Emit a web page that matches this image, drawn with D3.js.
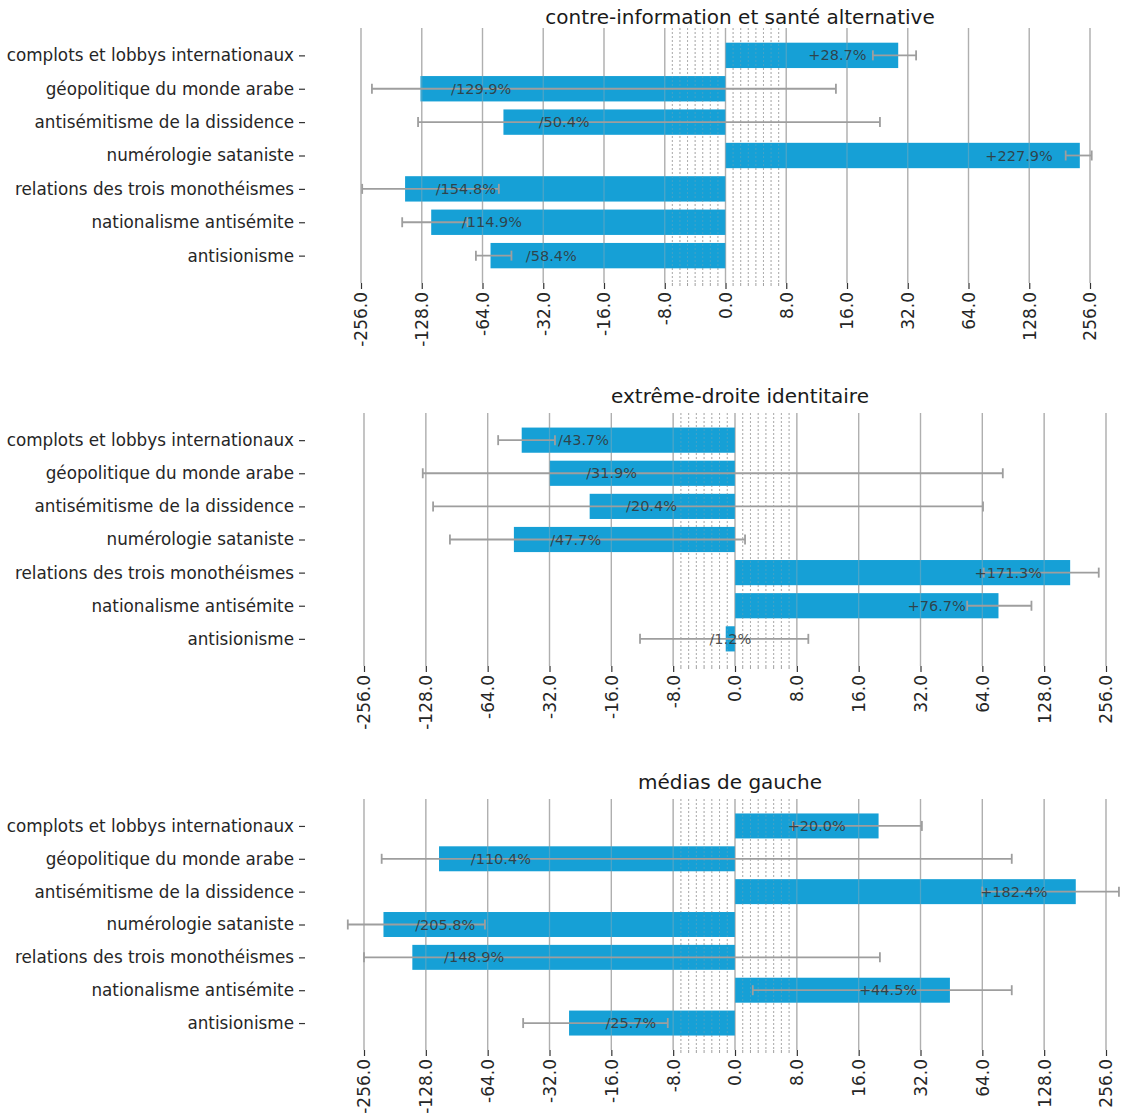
<!DOCTYPE html>
<html>
<head>
<meta charset="utf-8">
<script src="https://cdn.jsdelivr.net/npm/d3@7.9.0/dist/d3.min.js"></script>
<style>
  body { margin: 0; background: #fff; }
  text { font-family: "DejaVu Sans", sans-serif; }
</style>
</head>
<body>
<div id="chart"></div>
<script>
const width = 1127;
const height = 1119;

// data
const categories = [
  "complots et lobbys internationaux",
  "géopolitique du monde arabe",
  "antisémitisme de la dissidence",
  "numérologie sataniste",
  "relations des trois monothéismes",
  "nationalisme antisémite",
  "antisionisme"
];
const panelTitles = [
  "contre-information et santé alternative",
  "extrême-droite identitaire",
  "médias de gauche"
];
const values1 = [28.7, -129.9, -50.4, 227.9, -154.8, -114.9, -58.4];
const low1 = [21.5, -226, -133.5, 194, -252.6, -160, -69];
const high1 = [35.2, 14.1, 23.3, 261, -53.1, -76, -46];

const values2 = [-43.7, -31.9, -20.4, -47.7, 171.3, 76.7, -1.2];
const low2 = [-56.9, -132.5, -118, -97.7, 65, 54, -11.6];
const high2 = [-30.1, 80.5, 64.5, 1.3, 236, 111, 9.1];

const values3 = [20.0, -110.4, 182.4, -205.8, -148.9, 44.5, -25.7];
const low3 = [7.5, -210, 64, -307, -256, 2.3, -43];
const high3 = [32.5, 89, 296, -66, 20.3, 89, -8.5];

const majorTicks = [-256, -128, -64, -32, -16, -8, 0, 8, 16, 32, 64, 128, 256];
const minorTicks = [-7, -6, -5, -4, -3, -2, -1, 1, 2, 3, 4, 5, 6, 7];

const panels = [
  { title: panelTitles[0], values: values1, low: low1, high: high1, top: 28, bottom: 283, x0: 361, x1: 1090, titleX: 740, titleY: 24 },
  { title: panelTitles[1], values: values2, low: low2, high: high2, top: 413, bottom: 666, x0: 364, x1: 1106, titleX: 740, titleY: 403 },
  { title: panelTitles[2], values: values3, low: low3, high: high3, top: 799, bottom: 1050, x0: 364, x1: 1106, titleX: 730, titleY: 789 }
];

// symmetric log, base 2, linear below 8
const linthresh = 8;
const symlog2 = v => {
  const a = Math.abs(v);
  const t = a <= linthresh ? a / linthresh : 1 + Math.log2(a / linthresh);
  return Math.sign(v) * t;
};

const barColor = "#16a0d6";
const errColor = "#9e9e9e";
const gridColor = "#b0b0b0";

const svg = d3.select("#chart")
  .append("svg")
  .attr("width", width)
  .attr("height", height)
  .attr("viewBox", `0 0 ${width} ${height}`);

panels.forEach(p => {
  const xLin = d3.scaleLinear().domain([-6, 6]).range([p.x0, p.x1]);
  const x = v => xLin(symlog2(v));
  const y = d3.scalePoint().domain(categories).range([p.top, p.bottom]).padding(0.82);
  const bh = y.step() * 0.76;

  const g = svg.append("g");

  const drawGrid = (layer, op) => {
    layer.selectAll(null).data(majorTicks).join("line")
      .attr("x1", d => x(d)).attr("x2", d => x(d))
      .attr("y1", p.top).attr("y2", p.bottom)
      .attr("stroke", gridColor).attr("stroke-width", 1.3)
      .attr("stroke-opacity", op);
    layer.selectAll(null).data(minorTicks).join("line")
      .attr("x1", d => x(d)).attr("x2", d => x(d))
      .attr("y1", p.top).attr("y2", p.bottom)
      .attr("stroke", "#a8a8a8").attr("stroke-width", 0.9)
      .attr("stroke-dasharray", "2,2")
      .attr("stroke-opacity", op);
  };
  drawGrid(g.append("g"), 1);

  // bars
  g.append("g").selectAll("rect").data(p.values).join("rect")
    .attr("x", d => Math.min(x(0), x(d)))
    .attr("width", d => Math.abs(x(d) - x(0)))
    .attr("y", (d, i) => y(categories[i]) - bh / 2)
    .attr("height", bh)
    .attr("fill", barColor);

  // faint grid over bars
  drawGrid(g.append("g"), 0.35);

  // error bars
  const eb = g.append("g").attr("stroke", errColor).attr("stroke-width", 1.8);
  categories.forEach((c, i) => {
    const cy = y(c);
    const xa = x(p.low[i]), xb = x(p.high[i]);
    eb.append("line").attr("x1", xa).attr("x2", xb).attr("y1", cy).attr("y2", cy);
    eb.append("line").attr("x1", xa).attr("x2", xa).attr("y1", cy - 5).attr("y2", cy + 5);
    eb.append("line").attr("x1", xb).attr("x2", xb).attr("y1", cy - 5).attr("y2", cy + 5);
  });

  // value labels at half value
  g.append("g").selectAll("text").data(p.values).join("text")
    .attr("x", d => x(d / 2))
    .attr("y", (d, i) => y(categories[i]))
    .attr("dy", "0.35em")
    .attr("text-anchor", "middle")
    .attr("font-size", 14.5)
    .attr("fill", "#333")
    .attr("fill-opacity", 0.85)
    .text(d => (d >= 0 ? "+" + d.toFixed(1) : "/" + Math.abs(d).toFixed(1)) + "%");

  // y axis labels
  const yAxis = g.append("g").attr("transform", `translate(305,0)`)
    .call(d3.axisLeft(y).tickSize(6).tickPadding(5));
  yAxis.select(".domain").remove();
  yAxis.selectAll(".tick line").attr("stroke", "#333").attr("stroke-width", 1.2);
  yAxis.selectAll(".tick text").attr("font-size", 16.8).attr("fill", "#262626")
    .style("font-family", "DejaVu Sans");

  // x axis (transformed values)
  const xAxis = g.append("g").attr("transform", `translate(0,${p.bottom})`)
    .call(d3.axisBottom(xLin)
      .tickValues(majorTicks.map(symlog2))
      .tickFormat((d, i) => majorTicks[i].toFixed(1))
      .tickSize(6).tickPadding(4));
  xAxis.select(".domain").remove();
  xAxis.selectAll(".tick line").attr("stroke", "#333").attr("stroke-width", 1.2);
  xAxis.selectAll(".tick text")
    .attr("font-size", 17).attr("fill", "#262626")
    .style("font-family", "DejaVu Sans")
    .attr("transform", "rotate(-90)")
    .attr("text-anchor", "end")
    .attr("x", -9).attr("y", 0).attr("dy", "0.35em");
  // minor ticks
  xAxis.append("g").selectAll("line").data(minorTicks).join("line")
    .attr("x1", d => x(d)).attr("x2", d => x(d))
    .attr("y1", 0).attr("y2", 3)
    .attr("stroke", "#888").attr("stroke-width", 0.8);

  // title
  svg.append("text")
    .attr("x", p.titleX)
    .attr("y", p.titleY)
    .attr("text-anchor", "middle")
    .attr("font-size", 20)
    .attr("fill", "#1a1a1a")
    .text(p.title);
});
</script>
</body>
</html>
